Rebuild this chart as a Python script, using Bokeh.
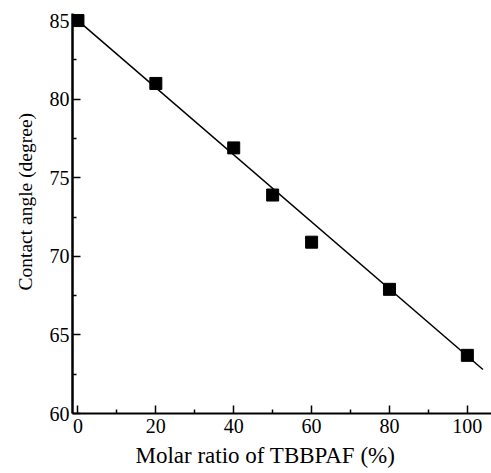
from bokeh.plotting import figure
from bokeh.models import Range1d, FixedTicker, Title
from bokeh.embed import file_html
from bokeh.resources import INLINE

# data
ratio = [0, 20, 40, 50, 60, 80, 100]
angle = [85.0, 81.0, 76.9, 73.9, 70.9, 67.9, 63.7]
fit_x = [0, 104]
fit_y = [85.0, 62.8]
x_ticks = [0, 20, 40, 60, 80, 100]
x_minor = [10, 30, 50, 70, 90]
y_ticks = [60, 65, 70, 75, 80, 85]
y_minor = [62.5, 67.5, 72.5, 77.5, 82.5]
x_label = "Molar ratio of TBBPAF (%)"
y_label = "Contact angle (degree)"

FONT = "Liberation Serif"

p = figure(width=491, height=473, output_backend="svg", toolbar_location=None,
           x_range=Range1d(-1.4, 106.2), y_range=Range1d(60, 85.45),
           min_border_left=72, min_border_right=0, min_border_top=13, min_border_bottom=60)
p.grid.visible = False
p.outline_line_color = None
p.background_fill_color = "white"

p.line(fit_x, fit_y, line_color="black", line_width=1.5)
p.scatter(ratio, angle, marker="square", size=12, color="black")

for ax in (p.xaxis, p.yaxis):
    ax.axis_line_color = "black"
    ax.major_tick_in = 8
    ax.major_tick_out = 0
    ax.minor_tick_in = 4
    ax.minor_tick_out = 0
    ax.major_tick_line_color = "black"
    ax.minor_tick_line_color = "black"
    ax.major_tick_line_width = 1.5
    ax.minor_tick_line_width = 1.5
    ax.major_label_text_font = FONT
    ax.major_label_text_font_size = "20px"
    ax.major_label_text_color = "black"

p.xaxis.ticker = FixedTicker(ticks=x_ticks, minor_ticks=x_minor)
p.yaxis.ticker = FixedTicker(ticks=y_ticks, minor_ticks=y_minor)
p.xaxis.axis_line_width = 2
p.yaxis.axis_line_width = 2.5
p.xaxis.major_label_standoff = 5
p.yaxis.major_label_standoff = 3

p.add_layout(Title(text=x_label, align="left", offset=63, text_font=FONT,
                   text_font_size="23px", text_font_style="normal",
                   text_color="black", standoff=10), "below")
p.add_layout(Title(text=y_label, align="left", offset=123, text_font=FONT,
                   text_font_size="19.5px", text_font_style="normal",
                   text_color="black", standoff=21), "left")

open("out.html", "w").write(file_html(p, INLINE))
